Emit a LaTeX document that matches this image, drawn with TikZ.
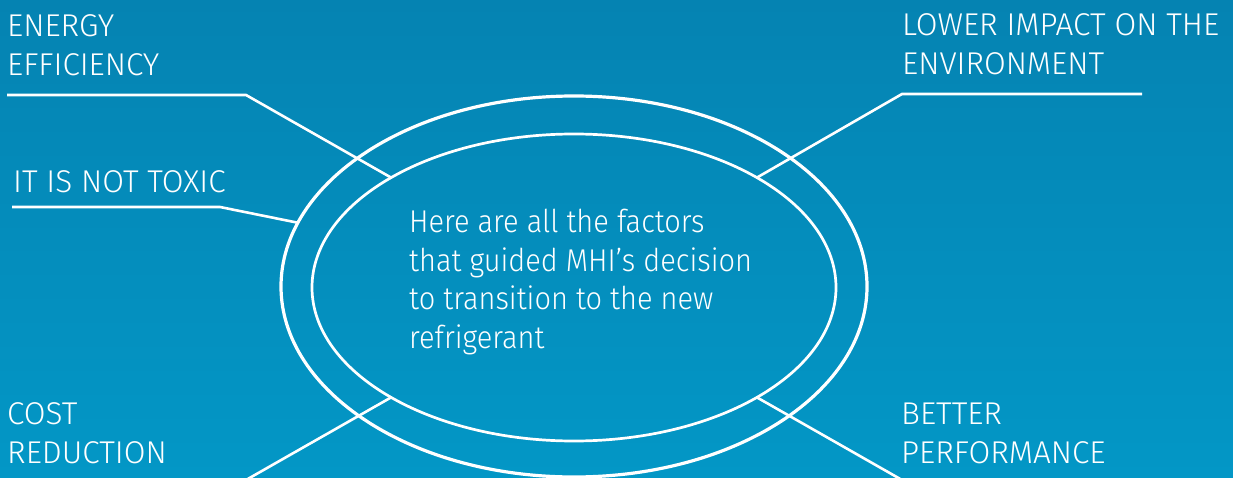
\documentclass[tikz,border=0pt]{standalone}
\usepackage{fontspec}
\setmainfont{Fira Sans Light}
\newfontfamily\narrowfont{Fira Sans Light}[FakeStretch=0.92]
\usetikzlibrary{shapes.geometric}
\definecolor{bgtop}{RGB}{5,131,178}
\definecolor{bgbot}{RGB}{3,151,198}
\begin{document}
\begin{tikzpicture}[x=1pt,y=-1pt,
  wline/.style={draw=white, line width=2.6pt},
  ring/.style={ellipse, draw=white, inner sep=0pt, outer sep=0pt},
  lbl/.style={text=white, anchor=base west, inner sep=0pt, align=left, font=\fontsize{31.5}{39}\selectfont},
  ]
\useasboundingbox (0,0) rectangle (1233,478);
\shade[top color=bgtop, bottom color=bgbot] (0,0) rectangle (1233,478);
\node[ring, line width=3.2pt, minimum width=586pt, minimum height=381pt] (outer) at (574,286.5) {};
\node[ring, line width=2.7pt, minimum width=524pt, minimum height=307pt] (inner) at (574,287.5) {};
\coordinate (e1) at (7,95);
\coordinate (e2) at (246,95);
\coordinate (t1) at (12,207);
\coordinate (t2) at (220,207);
\coordinate (l1) at (1142,94);
\coordinate (l2) at (902,94);
\coordinate (c1) at (246,480);
\coordinate (p1) at (902,480);
\draw[wline] (e1) -- (e2) -- (inner.149);
\draw[wline] (t1) -- (t2) -- (outer.167);
\draw[wline] (l1) -- (l2) -- (inner.31);
\draw[wline] (c1) -- (inner.211);
\draw[wline] (p1) -- (inner.329);
\node[lbl] (ee) at (7,76) {ENERGY\\EFFICIENCY};
\node[lbl] (nt) at (13,193) {IT IS NOT TOXIC};
\node[lbl] (li) at (902,75) {LOWER IMPACT ON THE\\ENVIRONMENT};
\node[lbl] (cr) at (7,463) {COST\\REDUCTION};
\node[lbl] (bp) at (901,463) {BETTER\\PERFORMANCE};
\node[lbl, font=\narrowfont\fontsize{31.5}{38.5}\selectfont] (ct) at (409,348) {Here are all the factors\\that guided MHI’s decision\\to transition to the new\\refrigerant};
\end{tikzpicture}
\end{document}
